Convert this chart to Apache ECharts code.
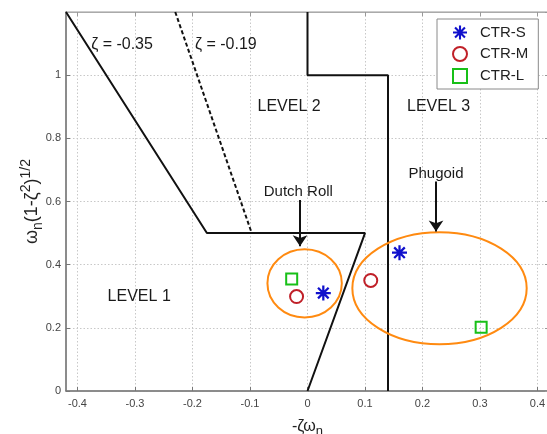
<!DOCTYPE html>
<html>
<head>
<meta charset="utf-8">
<script src="https://cdn.jsdelivr.net/npm/echarts@6/dist/echarts.min.js"></script>
<style>
html,body{margin:0;padding:0;background:#fff;}
#chart{width:547px;height:434px;}
</style>
</head>
<body>
<div id="chart"></div>
<script>
// ---- data ----
const xTicks = [-0.4, -0.3, -0.2, -0.1, 0, 0.1, 0.2, 0.3, 0.4];
const yTicks = [0, 0.2, 0.4, 0.6, 0.8, 1];
const ctrS = [[0.0275, 0.31], [0.16, 0.438]];
const ctrM = [[-0.019, 0.299], [0.11, 0.35]];
const ctrL = [[-0.0275, 0.3545], [0.302, 0.202]];
const level1Boundary = [[-0.42, 1.2], [-0.175, 0.5], [0.1, 0.5], [0, 0]];
const level2Boundary = [[0, 1.2], [0, 1.0], [0.14, 1.0], [0.14, 0]];
const zeta019Line = [[-0.23, 1.2], [-0.097, 0.5]];
// ellipses: [centerX, centerY, radiusX, radiusY]
const ellipses = [[-0.005, 0.341, 0.0647, 0.108], [0.2296, 0.3255, 0.1516, 0.1775]];
// arrows: [x1, y1, x2, y2]
const arrows = [[-0.013, 0.605, -0.013, 0.458], [0.2235, 0.663, 0.2235, 0.505]];
const annotations = [
  {text: 'ζ = -0.35', pos: [-0.3226, 1.097], size: 16},
  {text: 'ζ = -0.19', pos: [-0.142, 1.097], size: 16},
  {text: 'LEVEL 2', pos: [-0.032, 0.9], size: 16},
  {text: 'LEVEL 3', pos: [0.228, 0.9], size: 16},
  {text: 'LEVEL 1', pos: [-0.2927, 0.299], size: 16},
  {text: 'Dutch Roll', pos: [-0.016, 0.632], size: 15},
  {text: 'Phugoid', pos: [0.2235, 0.688], size: 15}
];

const FONT = "'Liberation Sans', Arial, Helvetica, sans-serif";
const asterisk = 'path://M8.5 0H11.5V20H8.5ZM0 8.5H20V11.5H0ZM3.99 1.87L18.13 16.01L16.01 18.13L1.87 3.99ZM16.01 1.87L18.13 3.99L3.99 18.13L1.87 16.01Z';

const chart = echarts.init(document.getElementById('chart'), null, {renderer: 'canvas'});

const gridLine = {show: true, lineStyle: {color: '#c8c8c8', type: [1.5, 2], width: 1}};
const tickLabel = {fontFamily: FONT, fontSize: 11, color: '#444'};

const option = {
  backgroundColor: '#fff',
  animation: false,
  grid: {left: 66, top: 12, width: 483, height: 379, show: true, borderColor: '#999', borderWidth: 1,
    containLabel: false, outerBoundsMode: 'none'},
  legend: {
    data: ['CTR-S', 'CTR-M', 'CTR-L'],
    orient: 'vertical',
    left: 437, top: 19,
    padding: [6, 10, 5, 15],
    itemGap: 6,
    itemWidth: 14, itemHeight: 14,
    backgroundColor: '#fff',
    borderColor: '#8a8a8a', borderWidth: 1,
    textStyle: {fontFamily: FONT, fontSize: 15, color: '#222', padding: [0, 0, 0, 8]}
  },
  xAxis: [{
    type: 'value', min: -0.42, max: 0.42, minInterval: 0.1, maxInterval: 0.1, splitNumber: 8,
    name: '-ζω{sub|n}', nameLocation: 'middle', nameGap: 24, nameMoveOverlap: false,
    nameTextStyle: {fontFamily: FONT, fontSize: 16, color: '#222',
      rich: {sub: {fontFamily: FONT, fontSize: 13, color: '#222', verticalAlign: 'bottom', padding: [10, 0, 0, 0]}}},
    axisLine: {show: true, onZero: false, lineStyle: {color: '#777', width: 1.5}},
    axisTick: {show: true, inside: true, length: 4, lineStyle: {color: '#777'}},
    axisLabel: Object.assign({margin: 7, showMinLabel: false, showMaxLabel: false,
      formatter: v => (xTicks.some(t => Math.abs(t - v) < 1e-9) ? String(Math.round(v * 10) / 10) : '')}, tickLabel),
    splitLine: gridLine
  }, {
    type: 'value', position: 'top', min: -0.42, max: 0.42, minInterval: 0.1, maxInterval: 0.1, splitNumber: 8,
    axisLine: {show: true, onZero: false, lineStyle: {color: '#aaa', width: 1}},
    axisTick: {show: true, inside: true, length: 4, lineStyle: {color: '#999'}},
    axisLabel: {show: false}, splitLine: {show: false}
  }],
  yAxis: [{
    type: 'value', min: 0, max: 1.2, interval: 0.2,
    name: 'ω{sub|n}(1-ζ{sup|2}){sup|1/2}', nameLocation: 'middle', nameGap: 21, nameMoveOverlap: false,
    nameTextStyle: {fontFamily: FONT, fontSize: 18, color: '#222', lineHeight: 26,
      rich: {
        sub: {fontFamily: FONT, fontSize: 14, color: '#222', verticalAlign: 'bottom', lineHeight: 26, padding: [8, 0, 0, 0]},
        sup: {fontFamily: FONT, fontSize: 14, color: '#222', verticalAlign: 'top', lineHeight: 26, padding: [0, 0, 8, 0]}
      }},
    axisLine: {show: true, onZero: false, lineStyle: {color: '#777', width: 1.5}},
    axisTick: {show: true, inside: true, length: 4, lineStyle: {color: '#777'}},
    axisLabel: Object.assign({margin: 5, showMaxLabel: false,
      formatter: v => (yTicks.some(t => Math.abs(t - v) < 1e-9) ? String(Math.round(v * 10) / 10) : '')}, tickLabel),
    splitLine: gridLine
  }, {
    type: 'value', position: 'right', min: 0, max: 1.2, interval: 0.2,
    axisLine: {show: true, onZero: false, lineStyle: {color: '#aaa'}},
    axisTick: {show: true, inside: true, length: 4, lineStyle: {color: '#999'}},
    axisLabel: {show: false}, splitLine: {show: false}
  }],
  series: [
    {type: 'line', data: level1Boundary, symbol: 'none', lineStyle: {color: '#111', width: 2}, z: 3, silent: true},
    {type: 'line', data: level2Boundary, symbol: 'none', lineStyle: {color: '#111', width: 2}, z: 3, silent: true},
    {type: 'line', data: zeta019Line, symbol: 'none', lineStyle: {color: '#111', width: 2, type: [4, 2.5]}, z: 3, silent: true},
    {
      type: 'custom', data: ellipses, z: 4, silent: true, clip: false,
      renderItem: (params, api) => {
        const c = api.coord([api.value(0), api.value(1)]);
        const s = api.size([api.value(2), api.value(3)]);
        return {type: 'ellipse', shape: {cx: c[0], cy: c[1], rx: s[0], ry: s[1]},
          style: {fill: null, stroke: '#ff8a10', lineWidth: 2}};
      }
    },
    {
      type: 'lines', coordinateSystem: 'cartesian2d', z: 4, silent: true,
      data: arrows.map(a => ({coords: [[a[0], a[1]], [a[2], a[3]]]})),
      symbol: ['none', 'arrow'], symbolSize: [6, 11],
      lineStyle: {color: '#111', width: 2, opacity: 1}
    },
    {
      type: 'custom', data: annotations.map(a => [a.pos[0], a.pos[1]]), z: 5, silent: true, clip: false,
      renderItem: (params, api) => {
        const a = annotations[params.dataIndex];
        const p = api.coord([api.value(0), api.value(1)]);
        return {type: 'text', x: p[0], y: p[1],
          style: {text: a.text, fontFamily: FONT, fontSize: a.size, fill: '#1a1a1a', align: 'center', verticalAlign: 'middle'}};
      }
    },
    {name: 'CTR-S', type: 'scatter', data: ctrS, symbol: asterisk, symbolSize: 15, symbolKeepAspect: true,
      itemStyle: {color: '#1010cc', opacity: 1}, z: 6},
    {name: 'CTR-M', type: 'scatter', data: ctrM, symbol: 'circle', symbolSize: 13,
      itemStyle: {color: 'rgba(255,255,255,0)', borderColor: '#c02028', borderWidth: 2, opacity: 1}, z: 6},
    {name: 'CTR-L', type: 'scatter', data: ctrL, symbol: 'rect', symbolSize: 11,
      itemStyle: {color: 'rgba(255,255,255,0)', borderColor: '#18c018', borderWidth: 2, opacity: 1}, z: 6}
  ]
};
chart.setOption(option);
</script>
</body>
</html>
